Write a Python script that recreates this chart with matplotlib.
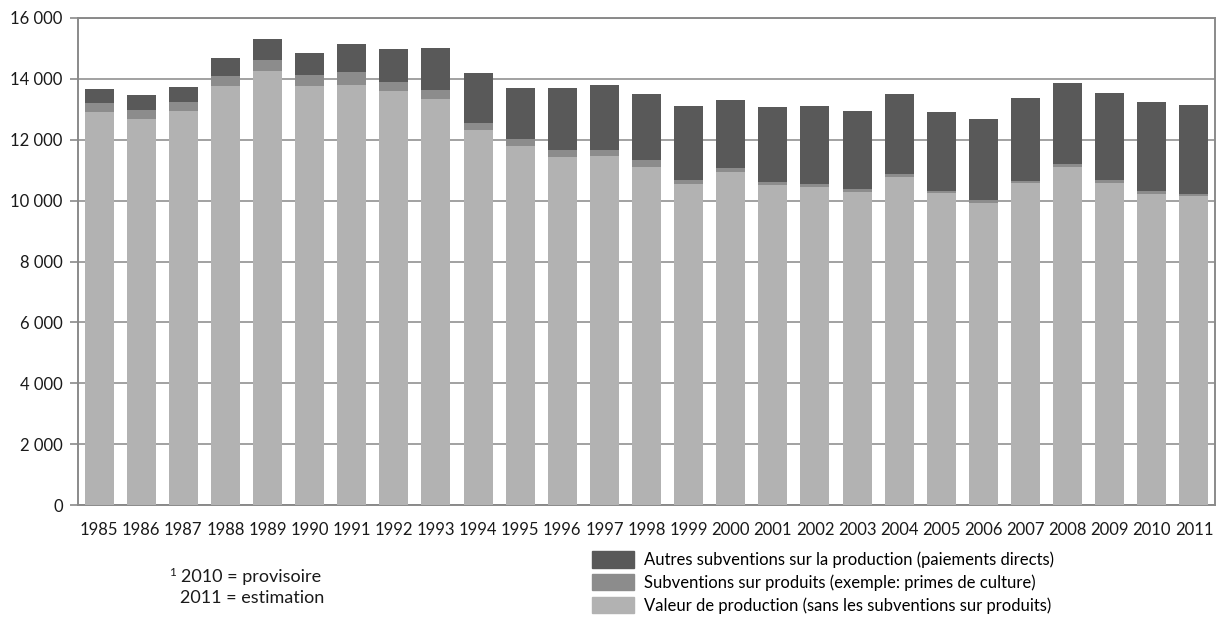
import matplotlib.pyplot as plt
from matplotlib.patches import Patch
from matplotlib.ticker import FuncFormatter

plt.rcParams["font.family"] = ["Lato", "DejaVu Sans"]

years = [str(y) for y in range(1985, 2012)]

# Valeur de production (sans les subventions sur produits)
production = [12910, 12680, 12940, 13770, 14260, 13770, 13800, 13600, 13340,
              12320, 11790, 11430, 11470, 11100, 10550, 10940, 10510, 10450,
              10280, 10780, 10250, 9920, 10580, 11100, 10580, 10220, 10150]
# Subventions sur produits
product_subs = [300, 300, 300, 330, 360, 360, 430, 300, 300, 230, 230, 230,
                200, 230, 130, 130, 100, 100, 100, 100, 70, 100, 70, 100, 100,
                100, 70]
# Autres subventions sur la production
other_subs = [460, 490, 490, 590, 690, 720, 920, 1080, 1380, 1640, 1680, 2040,
              2140, 2170, 2430, 2230, 2460, 2560, 2560, 2630, 2600, 2660, 2730,
              2660, 2860, 2920, 2920]

labels = ["Autres subventions sur la production (paiements directs)",
          "Subventions sur produits (exemple: primes de culture)",
          "Valeur de production (sans les subventions sur produits)"]
colors = ["#595959", "#8c8c8c", "#b2b2b2"]

fig = plt.figure(figsize=(12.17, 6.23), dpi=100)
ax = fig.add_axes([78 / 1217, 1 - 505 / 623, 1137 / 1217, 487 / 623])

x = range(len(years))
w = 0.69
bottom2 = [a + b for a, b in zip(production, product_subs)]
ax.bar(x, production, w, color=colors[2], zorder=3)
ax.bar(x, product_subs, w, bottom=production, color=colors[1], zorder=3)
ax.bar(x, other_subs, w, bottom=bottom2, color=colors[0], zorder=3)

ax.set_xlim(-0.5, len(years) - 0.5)
ax.set_ylim(0, 16000)
ax.set_yticks(range(0, 16001, 2000))
ax.yaxis.set_major_formatter(FuncFormatter(lambda v, p: f"{int(v):,}".replace(",", " ")))
ax.set_xticks(list(x))
ax.set_xticklabels(years)

ax.grid(axis="y", color="#9a9a9a", linewidth=1.3, zorder=0)
for s in ax.spines.values():
    s.set_color("#8a8a8a")
    s.set_linewidth(1.4)
ax.tick_params(axis="y", length=6, width=1.2, color="#8a8a8a", pad=5,
               labelsize=12, labelcolor="#1a1a1a")
ax.tick_params(axis="x", length=0, pad=12, labelsize=12, labelcolor="#1a1a1a")

handles = [Patch(color=c) for c in colors]
fig.legend(handles, labels, loc="upper left",
           bbox_to_anchor=(592 / 1217, 1 - 551 / 623), frameon=False,
           fontsize=12, handlelength=2.5, handleheight=1.15,
           labelspacing=0.36, handletextpad=0.6, borderpad=0, borderaxespad=0)

# footnote
fig.text(169 / 1217, 1 - 572 / 623, "1", fontsize=8.5, color="#1a1a1a", va="center")
fig.text(181 / 1217, 1 - 577 / 623, "2010 = provisoire", fontsize=13,
         color="#1a1a1a", va="center")
fig.text(180 / 1217, 1 - 598 / 623, "2011 = estimation", fontsize=13,
         color="#1a1a1a", va="center")

fig.savefig("out.png", dpi=100)
